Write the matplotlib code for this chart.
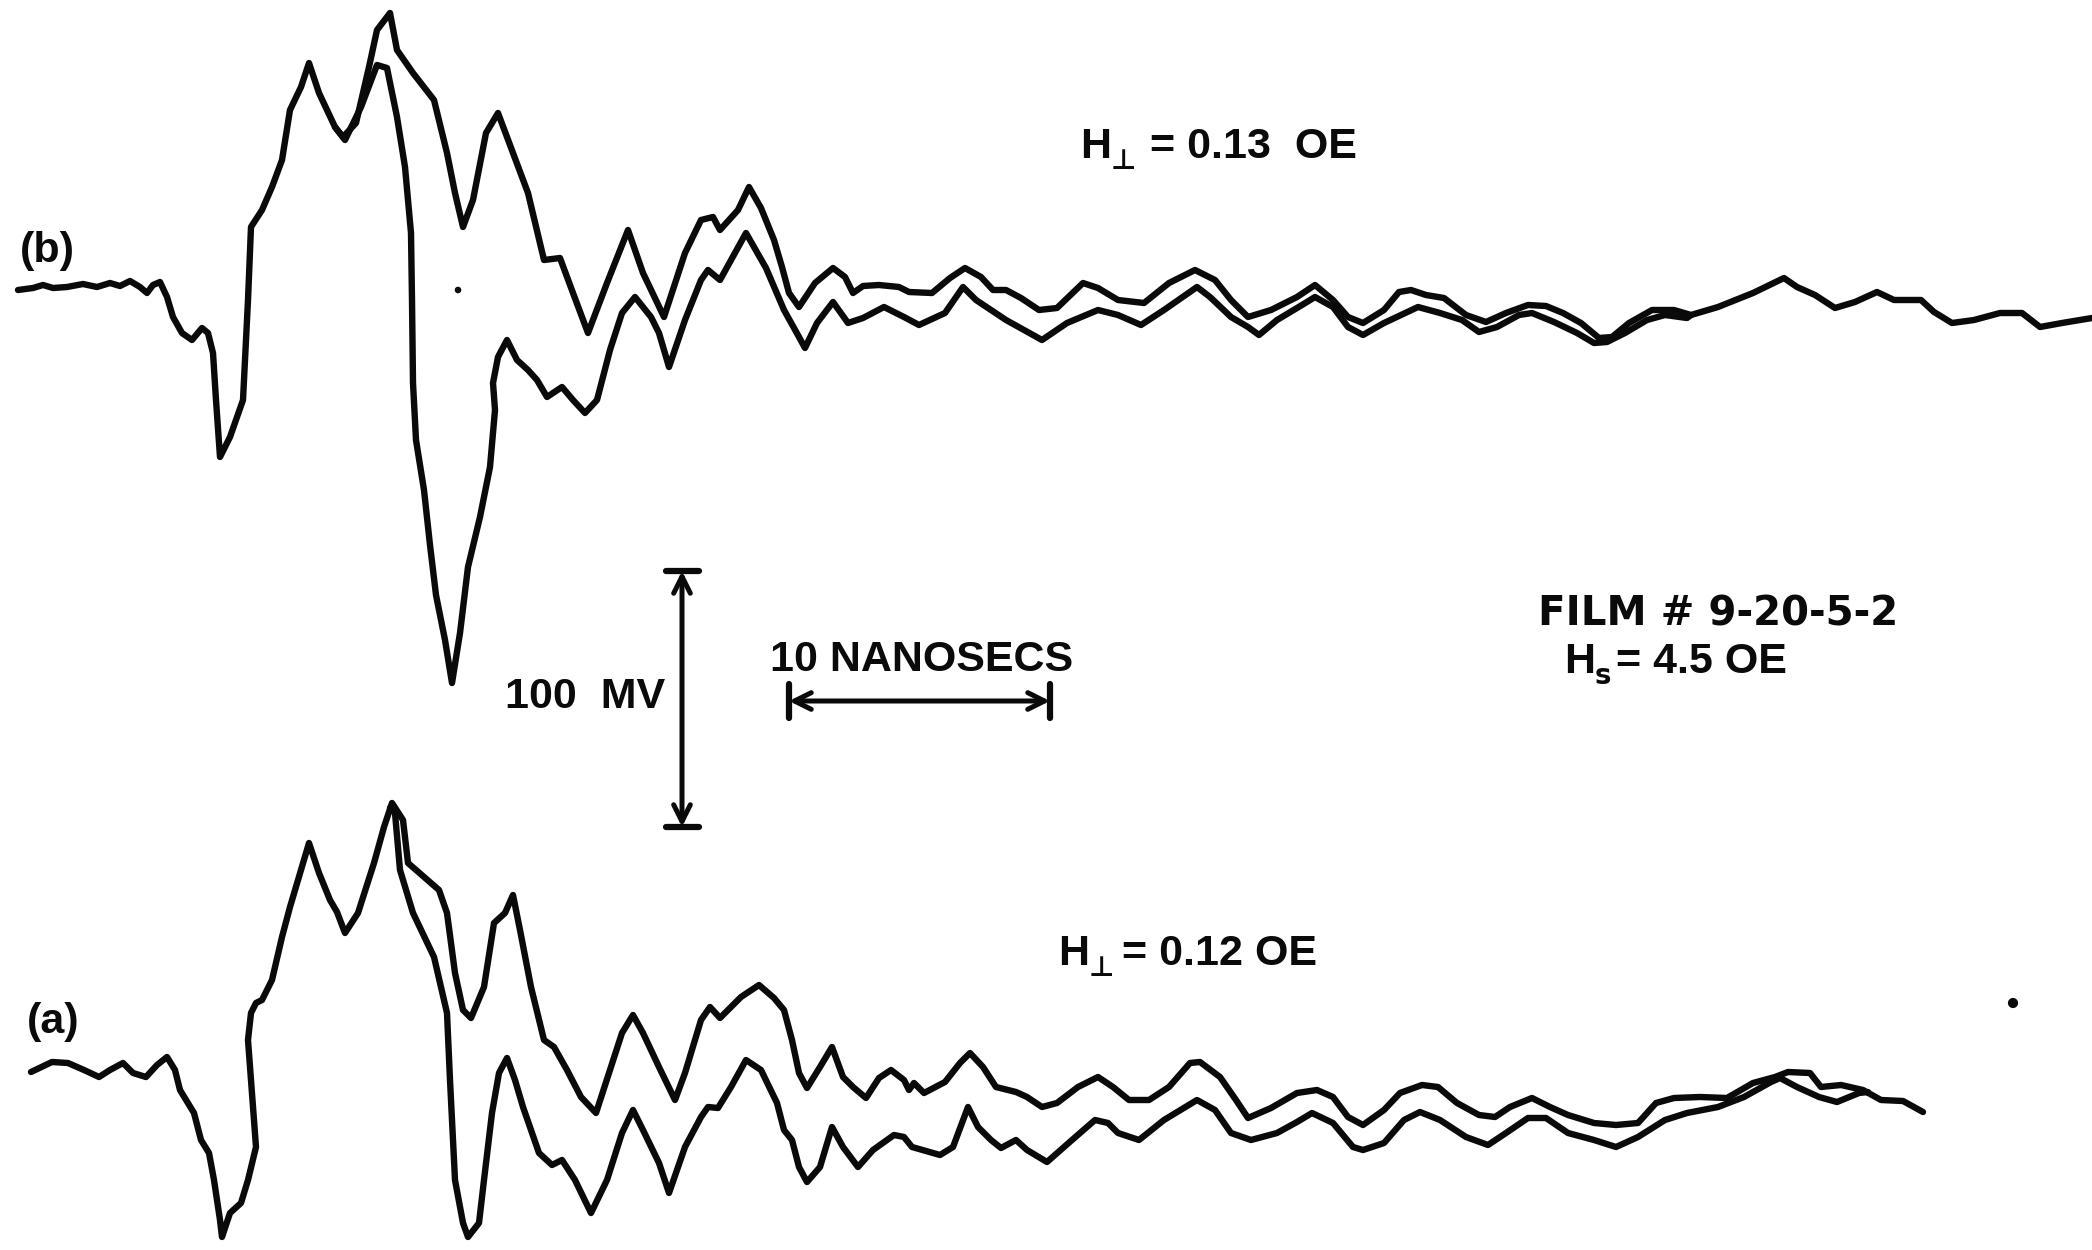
import numpy as np
import matplotlib
matplotlib.use("Agg")
import matplotlib.pyplot as plt

# digitized oscilloscope traces, in picture units (x: time axis, y: downward)
# panel (b): H_perp = 0.13 OE
b_up_x = [18, 33, 43, 53, 67, 83, 97, 110, 120, 130, 140, 147, 153, 160, 167, 173, 182, 192, 202, 208,
          213, 216, 220, 230, 243, 248, 251, 262, 272, 282, 290, 301, 309, 319, 335, 343, 356, 369,
          377, 390, 397, 413, 434, 447, 455, 463, 473, 486, 498, 513, 528, 544, 560, 573, 588, 607,
          628, 643, 664, 685, 701, 713, 720, 738, 749, 761, 774, 782, 789, 799, 815, 833, 845, 853,
          863, 879, 899, 909, 932, 950, 965, 981, 993, 1006, 1021, 1039, 1057, 1083, 1098, 1118,
          1144, 1169, 1195, 1215, 1231, 1248, 1271, 1297, 1315, 1333, 1348, 1363, 1384, 1399, 1411,
          1426, 1444, 1466, 1486, 1506, 1528, 1546, 1563, 1581, 1599, 1612, 1629, 1652, 1674, 1691,
          1718, 1753, 1784, 1797, 1815, 1835, 1855, 1877, 1894, 1921, 1934, 1952, 1974, 2000, 2022,
          2040, 2062, 2092]
b_up_y = [290, 288, 285, 288, 287, 284, 287, 283, 286, 281, 287, 293, 285, 282, 297, 317, 333, 340, 328,
          333, 353, 400, 457, 437, 400, 300, 227, 210, 187, 160, 110, 87, 63, 93, 127, 137, 123, 67,
          30, 13, 50, 73, 100, 153, 193, 227, 200, 133, 113, 153, 193, 260, 258, 293, 333, 283,
          230, 273, 317, 253, 220, 217, 230, 210, 187, 208, 240, 267, 293, 307, 283, 268, 277, 293,
          286, 285, 287, 292, 293, 278, 268, 277, 290, 290, 298, 310, 308, 283, 288, 300,
          303, 283, 270, 280, 300, 317, 310, 297, 285, 300, 317, 323, 310, 292, 290,
          295, 298, 315, 322, 313, 305, 306, 313, 323, 338, 337, 323, 310, 310, 315,
          307, 293, 278, 287, 295, 308, 302, 292, 300, 300, 312, 323, 320, 313, 313,
          327, 323, 318]
b_lo_x = [335, 345, 361, 377, 387, 397, 405, 411, 412, 413, 416, 424, 430, 436, 445, 452, 460, 468,
          480, 490, 495, 493, 498, 507, 517, 528, 537, 547, 562, 573, 585, 597, 610, 622, 635, 651,
          659, 669, 685, 701, 708, 720, 746, 766, 784, 799, 805, 817, 833, 848, 863, 884, 904, 919,
          945, 963, 976, 1006, 1042, 1067, 1098, 1118, 1141, 1164, 1197, 1210, 1231, 1248, 1259,
          1277, 1302, 1315, 1333, 1348, 1363, 1384, 1418, 1440, 1462, 1479, 1497, 1519, 1532, 1554,
          1577, 1594, 1607, 1625, 1647, 1665, 1687, 1691]
b_lo_y = [127, 140, 107, 65, 68, 117, 167, 233, 300, 383, 440, 490, 545, 595, 640, 683, 633, 567,
          517, 467, 410, 383, 357, 340, 360, 370, 380, 397, 387, 400, 413, 400, 350, 313, 297, 317,
          333, 367, 320, 280, 270, 280, 233, 268, 310, 337, 348, 323, 302, 323, 318, 307, 317, 325,
          313, 287, 300, 320, 340, 323, 310, 315, 325, 310, 287, 297, 317, 327, 335,
          320, 305, 297, 307, 327, 335, 323, 307, 313, 320, 332, 327, 315, 313, 322,
          333, 343, 342, 333, 320, 315, 318, 315]

# panel (a): H_perp = 0.12 OE
a_up_x = [31, 52, 68, 84, 99, 110, 123, 133, 146, 157, 167, 175, 180, 194, 201, 209, 214, 220, 222,
          230, 241, 248, 256, 251, 248, 251, 256, 262, 272, 282, 290, 301, 309, 319, 330, 337, 345,
          358, 374, 384, 392, 403, 408, 424, 439, 447, 455, 463, 471, 484, 494, 505, 513, 520, 531,
          544, 554, 567, 581, 596, 609, 622, 633, 643, 659, 675, 685, 701, 710, 720, 741, 759, 774,
          784, 792, 799, 807, 820, 832, 843, 853, 866, 879, 891, 904, 909, 914, 924, 945, 960, 970,
          983, 996, 1016, 1027, 1042, 1057, 1078, 1098, 1113, 1129, 1149, 1169, 1190, 1200, 1220,
          1236, 1248, 1271, 1297, 1317, 1333, 1348, 1363, 1384, 1400, 1422, 1438, 1457, 1479, 1495,
          1510, 1532, 1550, 1568, 1594, 1616, 1638, 1656, 1674, 1700, 1727, 1753, 1775, 1788, 1810,
          1821, 1841, 1863, 1881, 1903, 1923]
a_up_y = [1072, 1062, 1063, 1070, 1077, 1070, 1063, 1073, 1077, 1065, 1057, 1070, 1090, 1113, 1140,
          1153, 1180, 1220, 1237, 1213, 1203, 1180, 1147, 1080, 1040, 1013, 1003, 1000, 980, 937, 907,
          870, 843, 873, 900, 912, 933, 913, 863, 827, 803, 820, 863, 877, 890, 913, 973, 1010, 1018,
          987, 923, 913, 895, 930, 987, 1040, 1047, 1070, 1097, 1113, 1073, 1033, 1015, 1033, 1067,
          1100, 1073, 1020, 1007, 1018, 997, 985, 998, 1010, 1040, 1073, 1088, 1067, 1047, 1077,
          1087, 1098, 1078, 1070, 1080, 1090, 1083, 1093, 1082, 1063, 1053, 1067, 1087, 1092, 1097,
          1107, 1103, 1087, 1077, 1087, 1100, 1100, 1087, 1063, 1062, 1077, 1100, 1118, 1108, 1093,
          1090, 1097, 1117, 1125, 1110, 1093, 1085, 1087, 1103, 1115, 1117, 1107, 1098, 1107, 1115,
          1123, 1125, 1123, 1103, 1098, 1097, 1098, 1083, 1077, 1072, 1073, 1087, 1085, 1090, 1100,
          1101, 1112]
a_lo_x = [390, 395, 400, 413, 434, 447, 450, 455, 463, 468, 479, 484, 492, 499, 507, 515, 523, 539,
          552, 562, 575, 591, 607, 622, 633, 643, 659, 669, 685, 701, 708, 718, 731, 746, 761, 777,
          784, 792, 799, 807, 820, 832, 843, 858, 873, 894, 904, 912, 940, 953, 968, 978, 991, 1001,
          1016, 1027, 1047, 1072, 1095, 1108, 1118, 1139, 1164, 1197, 1215, 1231, 1251, 1277, 1297,
          1312, 1333, 1353, 1363, 1384, 1404, 1420, 1440, 1466, 1488, 1506, 1528, 1546, 1568, 1594,
          1616, 1638, 1665, 1687, 1718, 1744, 1771, 1780, 1797, 1819, 1837, 1859, 1868]
a_lo_y = [808, 813, 870, 913, 957, 1013, 1080, 1180, 1223, 1237, 1223, 1180, 1113, 1073, 1058, 1080,
          1107, 1153, 1165, 1160, 1180, 1213, 1180, 1133, 1110, 1130, 1163, 1193, 1147, 1117, 1107,
          1108, 1087, 1060, 1070, 1103, 1130, 1140, 1167, 1182, 1167, 1127, 1147, 1167, 1150, 1135,
          1137, 1147, 1155, 1147, 1107, 1127, 1140, 1148, 1140, 1150, 1162, 1140, 1120, 1123, 1133,
          1140, 1120, 1100, 1110, 1133, 1140, 1133, 1122, 1113, 1123, 1147, 1150, 1143, 1120, 1112,
          1120, 1137, 1145, 1133, 1118, 1118, 1133, 1140, 1147, 1137, 1120, 1113, 1107, 1097, 1082,
          1078, 1087, 1097, 1102, 1093, 1092]

# scale bars
mv_bar_x = 682
mv_bar_y = (571, 827)       # 100 MV
ns_bar_x = (789, 1050)      # 10 NANOSECS
ns_bar_y = 701

# scan specks
speck_x = [458, 2013]
speck_y = [290, 1003]

W, H = 2092, 1250
fig = plt.figure(figsize=(W / 100, H / 100), dpi=100)
ax = fig.add_axes([0, 0, 1, 1])
ax.set_xlim(0, W)
ax.set_ylim(H, 0)
ax.axis("off")

font = ["Liberation Sans", "DejaVu Sans"]
ink = "#0a0a0a"
lw = 4.6

for xs, ys in [(b_up_x, b_up_y), (b_lo_x, b_lo_y), (a_up_x, a_up_y), (a_lo_x, a_lo_y)]:
    ax.plot(xs, ys, color=ink, linewidth=lw, solid_joinstyle="round", solid_capstyle="round")

# 100 MV bar
ax.annotate("", xy=(mv_bar_x, mv_bar_y[0]), xytext=(mv_bar_x, mv_bar_y[1]),
            arrowprops=dict(arrowstyle="<->", color=ink, lw=3.6, mutation_scale=30,
                            shrinkA=0, shrinkB=0))
for yy in mv_bar_y:
    ax.plot([mv_bar_x - 16, mv_bar_x + 17], [yy, yy], color=ink, lw=4.5, solid_capstyle="round")

# 10 ns bar
ax.annotate("", xy=(ns_bar_x[0], ns_bar_y), xytext=(ns_bar_x[1], ns_bar_y),
            arrowprops=dict(arrowstyle="<->", color=ink, lw=3.6, mutation_scale=30,
                            shrinkA=0, shrinkB=0))
for xx in ns_bar_x:
    ax.plot([xx, xx], [ns_bar_y - 17, ns_bar_y + 17], color=ink, lw=4.5, solid_capstyle="round")

ax.scatter(speck_x, speck_y, s=[14, 40], color=ink, zorder=3)

fs = 31
tk = dict(color=ink, family=font, fontweight="bold", fontsize=fs, va="center", ha="left")


def h_label(x, y, sub, rest, rest_x):
    # "H" with a subscript glyph, then the value text
    ax.text(x, y, "H", **tk)
    ax.text(x + 31, y + 14, sub, color=ink, family=["DejaVu Sans"], fontweight="bold",
            fontsize=20, va="center", ha="left")
    ax.text(rest_x, y, rest, **tk)


ax.text(20, 251, "(b)", **tk)
ax.text(27, 1022, "(a)", **tk)
h_label(1080, 147, "\u22a5", "= 0.13  OE", 1150)
h_label(1058, 954, "\u22a5", "= 0.12 OE", 1122)
ax.text(770, 660, "10 NANOSECS", **tk)
ax.text(505, 697, "100  MV", **tk)
ax.text(1538, 614, "FILM # 9-20-5-2", color=ink, family=["DejaVu Sans"], fontweight="bold",
        fontsize=29, va="center", ha="left")
h_label(1564, 662, "s", "= 4.5 OE", 1616)

fig.savefig("out.png", dpi=100)
